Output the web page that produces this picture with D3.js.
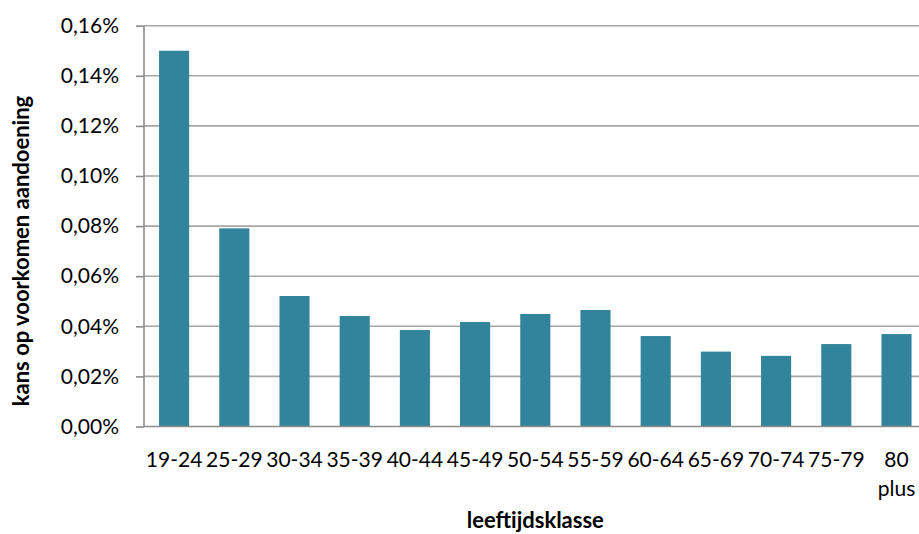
<!DOCTYPE html>
<html>
<head>
<meta charset="utf-8">
<script src="https://cdn.jsdelivr.net/npm/d3@7"></script>
<style>
  html, body { margin: 0; padding: 0; background: #fff; }
  svg { display: block; font-family: Lato, "Open Sans", sans-serif; }
</style>
</head>
<body>
<svg id="chart" width="919" height="534"></svg>
<script>
// Data
const categories = ["19-24","25-29","30-34","35-39","40-44","45-49","50-54","55-59","60-64","65-69","70-74","75-79","80 plus"];
const values = [0.150, 0.0791, 0.0521, 0.0441, 0.0385, 0.0417, 0.0449, 0.0465, 0.0361, 0.0299, 0.0282, 0.0329, 0.0369];
const yTicks = [0, 0.02, 0.04, 0.06, 0.08, 0.10, 0.12, 0.14, 0.16];
const yTitle = "kans op voorkomen aandoening";
const xTitle = "leeftijdsklasse";

const svg = d3.select("#chart");
const plotLeft = 144, plotRight = 926.6, plotTop = 25.7, plotBottom = 426.5;

const x = d3.scaleBand().domain(categories).range([plotLeft, plotRight]).paddingInner(0.5).paddingOuter(0.25);
const y = d3.scaleLinear().domain([0, 0.16]).range([plotBottom, plotTop]);

const nl = d3.formatLocale({decimal: ",", thousands: ".", grouping: [3], currency: ["€", ""]});
const fmt = v => nl.format(".2f")(v) + "%";

// gridlines
svg.append("g").selectAll("line").data(yTicks.filter(d => d > 0)).join("line")
  .attr("x1", plotLeft).attr("x2", 919)
  .attr("y1", d => y(d)).attr("y2", d => y(d))
  .attr("stroke", "#a6a6a6").attr("stroke-width", 1.6);

// bars
svg.append("g").selectAll("rect").data(values).join("rect")
  .attr("x", (d, i) => x(categories[i]))
  .attr("width", x.bandwidth())
  .attr("y", d => y(d))
  .attr("height", d => y(0) - y(d))
  .attr("fill", "#31849b");

// y axis
const yAxis = d3.axisLeft(y).tickValues(yTicks).tickFormat(fmt).tickSize(8).tickPadding(17);
const gy = svg.append("g").attr("transform", `translate(${plotLeft},0)`).call(yAxis);
gy.select(".domain").attr("stroke", "#8c8c8c").attr("stroke-width", 1.6).attr("d", `M0,${plotTop}V${plotBottom}`);
gy.selectAll(".tick line").attr("stroke", "#8c8c8c").attr("stroke-width", 1.6);
gy.selectAll(".tick text").attr("font-size", 21).attr("fill", "#000").attr("font-family", "Lato");

// x axis
const xAxis = d3.axisBottom(x).tickSize(0).tickPadding(0);
const gx = svg.append("g").attr("transform", `translate(0,${plotBottom})`).call(xAxis);
gx.select(".domain").attr("stroke", "#8c8c8c").attr("stroke-width", 1.6).attr("d", `M${plotLeft},0H919`);
gx.selectAll(".tick text").attr("font-size", 21).attr("fill", "#000").attr("font-family", "Lato")
  .each(function(d) {
    const t = d3.select(this);
    const words = d.split(" ");
    t.text(null).attr("dy", null).attr("y", 0);
    words.forEach((w, i) => {
      t.append("tspan").attr("x", 0).attr("y", 40 + i * 29).text(w);
    });
  });

// titles
svg.append("text")
  .attr("transform", `translate(29,251) rotate(-90)`)
  .attr("text-anchor", "middle")
  .attr("font-size", 22).attr("font-weight", "bold").attr("font-family", "Lato")
  .text(yTitle);

svg.append("text")
  .attr("x", (plotLeft + plotRight) / 2).attr("y", 527.5)
  .attr("text-anchor", "middle")
  .attr("font-size", 22).attr("font-weight", "bold").attr("font-family", "Lato")
  .text(xTitle);
</script>
</body>
</html>
